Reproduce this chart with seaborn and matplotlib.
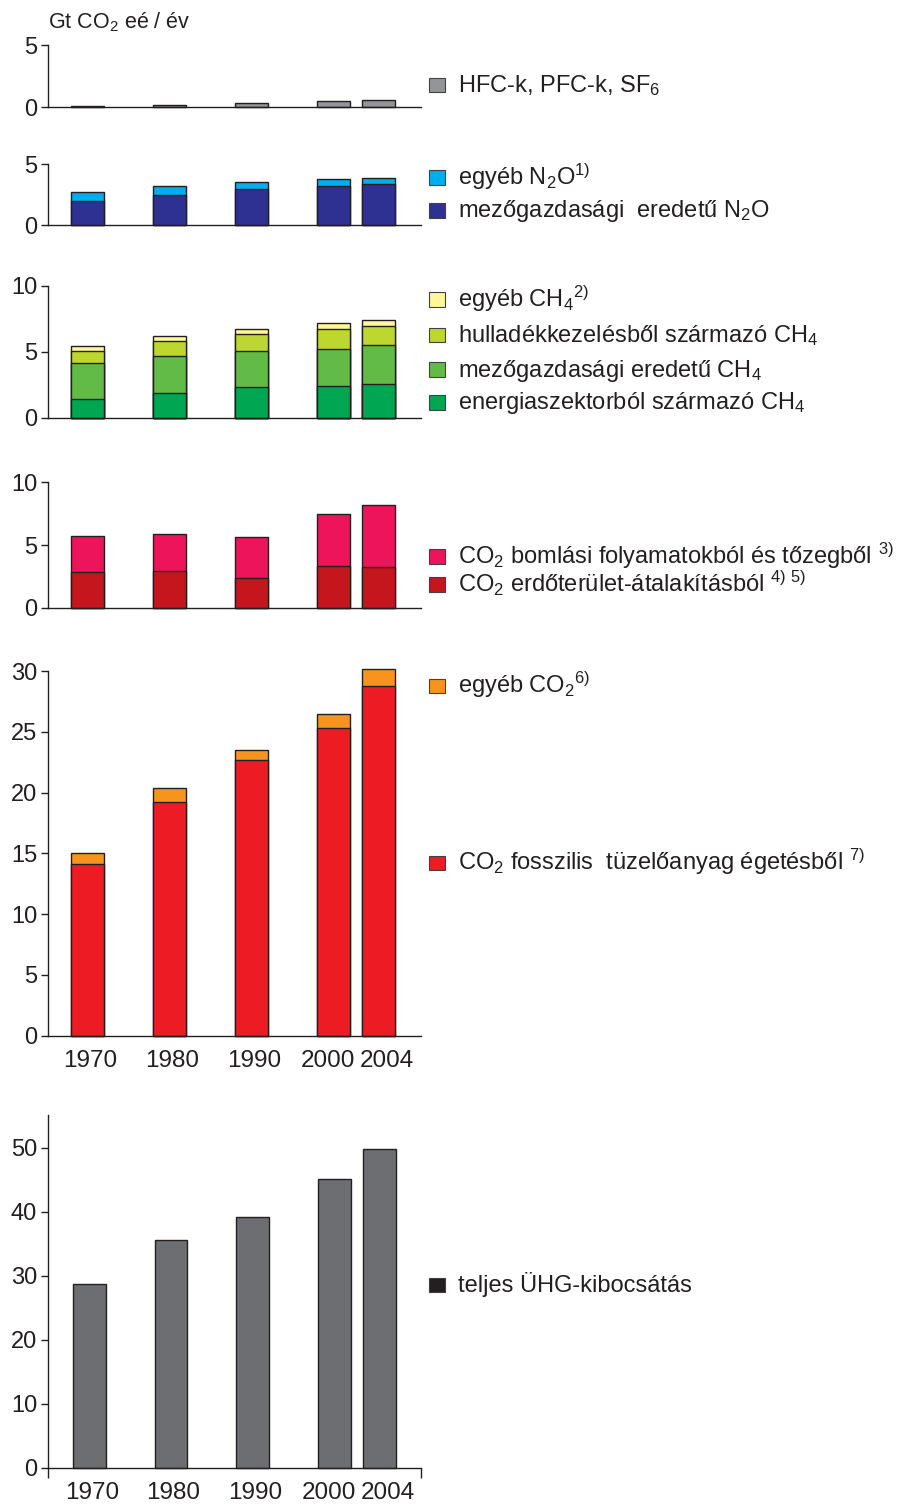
import numpy as np
import matplotlib.pyplot as plt
import matplotlib.transforms as mtransforms
from matplotlib.patches import Rectangle
import seaborn as sns

# data (Gt CO2-eq / year)
years = ["1970", "1980", "1990", "2000", "2004"]
xpos = [0, 1, 2, 3, 3.55]  # 2004 is drawn close to 2000

hfc = [0.1, 0.2, 0.3, 0.5, 0.55]
n2o_agri = [2.0, 2.5, 2.95, 3.2, 3.35]
n2o_other = [0.7, 0.75, 0.6, 0.55, 0.55]
ch4_energy = [1.4, 1.85, 2.3, 2.4, 2.55]
ch4_agri = [2.75, 2.85, 2.8, 2.85, 2.95]
ch4_waste = [0.95, 1.15, 1.25, 1.45, 1.45]
ch4_other = [0.35, 0.35, 0.35, 0.5, 0.5]
co2_forest = [2.85, 2.9, 2.35, 3.3, 3.25]
co2_decay = [2.9, 3.0, 3.25, 4.15, 4.9]
co2_fossil = [14.1, 19.25, 22.65, 25.35, 28.8]
co2_other = [0.95, 1.1, 0.85, 1.15, 1.4]
total = [28.7, 35.5, 39.2, 45.1, 49.8]

sns.set_style("ticks")
plt.rcParams["font.family"] = ["Liberation Sans", "DejaVu Sans"]
plt.rcParams["mathtext.default"] = "regular"

INK = "#231f20"
W, H = 904, 1504
fig = plt.figure(figsize=(W / 100, H / 100), dpi=100)

# small nudges of the year labels (px), as in the original artwork
label_shift = [2.5, 2.5, 2.5, -6, 8]


def rect_px(top_px, bottom_px):
    left, right = 48.3, 420.7
    return [left / W, 1 - bottom_px / H, (right - left) / W, (bottom_px - top_px) / H]


def stacked(ax, parts, colors):
    tops = np.cumsum(parts, axis=0)
    for top, col in reversed(list(zip(tops, colors))):
        sns.barplot(x=xpos, y=top, native_scale=True, orient="x", width=0.73,
                    color=col, saturation=1, edgecolor=INK, linewidth=1,
                    errorbar=None, ax=ax)
    for p in ax.patches:
        p.set_clip_on(False)


def style(ax, ylim, yticks, xlim, xlabels=False, endtick=False):
    ax.set_xlim(*xlim)
    ax.set_ylim(*ylim)
    ax.set_yticks(yticks)
    sns.despine(ax=ax)
    for s in ["left", "bottom"]:
        ax.spines[s].set_color(INK)
        ax.spines[s].set_linewidth(1)
    ax.tick_params(axis="y", length=5, width=1, color=INK, labelsize=17,
                   labelcolor=INK, pad=3)
    if xlabels:
        ax.set_xticks(xpos, years)
        ax.tick_params(axis="x", length=0, labelsize=17.5, labelcolor=INK, pad=10)
        for lab, dx in zip(ax.get_xticklabels(), label_shift):
            lab.set_transform(lab.get_transform() +
                              mtransforms.ScaledTranslation(dx / 100, 0, fig.dpi_scale_trans))
    else:
        ax.set_xticks([])
    if endtick:
        ax.set_xticks(list(xlim), minor=True)
        ax.tick_params(axis="x", which="minor", length=7, width=1, color=INK)
    ax.set_xlabel("")
    ax.set_ylabel("")


panels = [
    ([hfc], ["#939598"], (0, 5), [0, 5], (45, 107), False, False),
    ([n2o_agri, n2o_other], ["#2e3192", "#00aeef"], (0, 5), [0, 5], (164.3, 225), False, False),
    ([ch4_energy, ch4_agri, ch4_waste, ch4_other],
     ["#00a651", "#62bb46", "#bed630", "#fff799"], (0, 10), [0, 5, 10], (286, 417.7), False, False),
    ([co2_forest, co2_decay], ["#c4161c", "#ed145b"], (0, 10), [0, 5, 10], (482.3, 607.7), False, False),
    ([co2_fossil, co2_other], ["#ed1c24", "#f7941d"], (0, 30), [0, 5, 10, 15, 20, 25, 30],
     (671, 1035.7), True, False),
    ([total], ["#6d6e71"], (0, 55.1), [0, 10, 20, 30, 40, 50], (1115, 1467.7), True, True),
]

for i, (parts, colors, ylim, yticks, (t, b), xl, et) in enumerate(panels):
    ax = fig.add_axes(rect_px(t, b))
    stacked(ax, parts, colors)
    xlim = (-0.50, 4.05) if i == 5 else (-0.48, 4.065)
    style(ax, ylim, yticks, xlim, xl, et)

fig.text(48 / W, 1 - 28.3 / H, "Gt CO$_2$ eé / év", fontsize=15.5, color=INK, va="baseline")

legend_items = [
    ("HFC-k, PFC-k, SF$_6$", "#939598", 92),
    ("egyéb N$_2$O$^{1)}$", "#00aeef", 184.5),
    ("mezőgazdasági  eredetű N$_2$O", "#2e3192", 217.5),
    ("egyéb CH$_4$$^{2)}$", "#fff799", 306.5),
    ("hulladékkezelésből származó CH$_4$", "#bed630", 342),
    ("mezőgazdasági eredetű CH$_4$", "#62bb46", 376.5),
    ("energiaszektorból származó CH$_4$", "#00a651", 409.5),
    ("CO$_2$ bomlási folyamatokból és tőzegből $^{3)}$", "#ed145b", 563.5),
    ("CO$_2$ erdőterület-átalakításból $^{4)\\ 5)}$", "#c4161c", 591.5),
    ("egyéb CO$_2$$^{6)}$", "#f7941d", 693),
    ("CO$_2$ fosszilis  tüzelőanyag égetésből $^{7)}$", "#ed1c24", 870),
    ("teljes ÜHG-kibocsátás", INK, 1292),
]
for label, col, ybot in legend_items:
    fig.add_artist(Rectangle((429.5 / W, 1 - ybot / H), 15.5 / W, 14.5 / H,
                             transform=fig.transFigure, facecolor=col,
                             edgecolor="#414042", linewidth=0.8))
    fig.text(458 / W, 1 - ybot / H, label, fontsize=17, color=INK, va="baseline")

fig.savefig("out.png", dpi=100)
